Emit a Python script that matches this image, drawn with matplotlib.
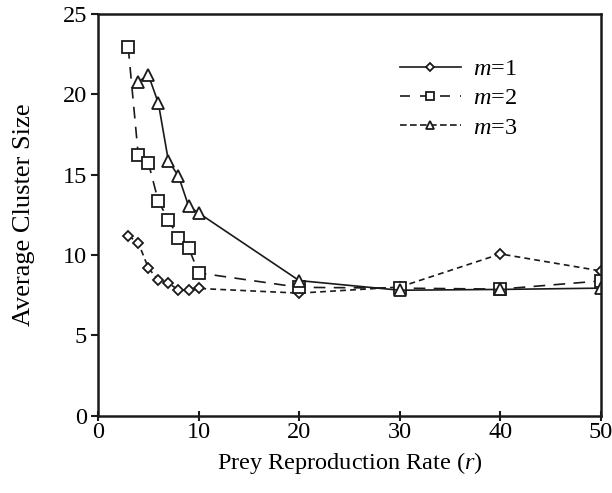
import matplotlib
matplotlib.use("Agg")
import matplotlib.pyplot as plt
from matplotlib.lines import Line2D

plt.rcParams['font.family'] = ['Liberation Serif', 'DejaVu Serif']
plt.rcParams['mathtext.fontset'] = 'custom'
plt.rcParams['mathtext.it'] = 'Liberation Serif:italic'
plt.rcParams['mathtext.rm'] = 'Liberation Serif'

r = [3, 4, 5, 6, 7, 8, 9, 10, 20, 30, 40, 50]
diamond_vals = [11.18, 10.77, 9.19, 8.43, 8.26, 7.80, 7.80, 7.91, 7.62, 8.00, 10.06, 9.00]
square_vals = [22.94, 16.24, 15.75, 13.34, 12.19, 11.06, 10.46, 8.88, 7.98, 7.93, 7.87, 8.38]
triangle_vals = [20.76, 21.22, 19.45, 15.85, 14.91, 13.05, 12.61, 8.40, 7.80, 7.85, 7.93]
r_tri = [4, 5, 6, 7, 8, 9, 10, 20, 30, 40, 50]
legend_labels = ['$m$=1', '$m$=2', '$m$=3']

fig = plt.figure(figsize=(6.12, 4.93), dpi=100)
ax = fig.add_axes([98/612, (493-415.5)/493, (601-98)/612, (415.5-14)/493])

c = '#1a1a1a'
ax.plot(r, diamond_vals, color=c, lw=1.2, dashes=(3.5, 2.5), marker='D', ms=5.5,
        mfc='white', mec=c, mew=1.3)
ax.plot(r, square_vals, color=c, lw=1.2, dashes=(7, 5), marker='s', ms=8,
        mfc='white', mec=c, mew=1.3)
ax.plot(r_tri, triangle_vals, color=c, lw=1.2, ls='-', marker='^', ms=8,
        mfc='white', mec=c, mew=1.3)

ax.set_xlim(0, 50)
ax.set_ylim(0, 25)
ax.set_xticks([0, 10, 20, 30, 40, 50])
ax.set_yticks([0, 5, 10, 15, 20, 25])
ax.tick_params(axis='x', direction='inout', length=7, width=1.5, labelsize=17.5, color=c, pad=1)
ax.tick_params(axis='y', direction='out', length=5, width=1.5, labelsize=17.5, color=c, pad=3)
for s in ax.spines.values():
    s.set_linewidth(1.8)
    s.set_color(c)

ax.set_xlabel('Prey Reproduction Rate ($r$)', fontsize=17.5, labelpad=5)
ax.set_ylabel('Average Cluster Size', fontsize=19, labelpad=20)

handles = [
    Line2D([0], [0], color=c, lw=1.2, ls='-', marker='D', ms=4.5, mfc='white', mec=c, mew=1.3),
    Line2D([0], [0], color=c, lw=1.2, dashes=(6, 6), marker='s', ms=5.5, mfc='white', mec=c, mew=1.3),
    Line2D([0], [0], color=c, lw=1.2, dashes=(4, 2), marker='^', ms=5.5, mfc='white', mec=c, mew=1.3),
]
fig.legend(handles, legend_labels, loc='upper left', bbox_to_anchor=(400/612, (493-58)/493),
           frameon=False, fontsize=17.5, handlelength=2.5, labelspacing=0.3,
           handletextpad=0.5, borderpad=0, borderaxespad=0)

fig.savefig('out.png', dpi=100)
